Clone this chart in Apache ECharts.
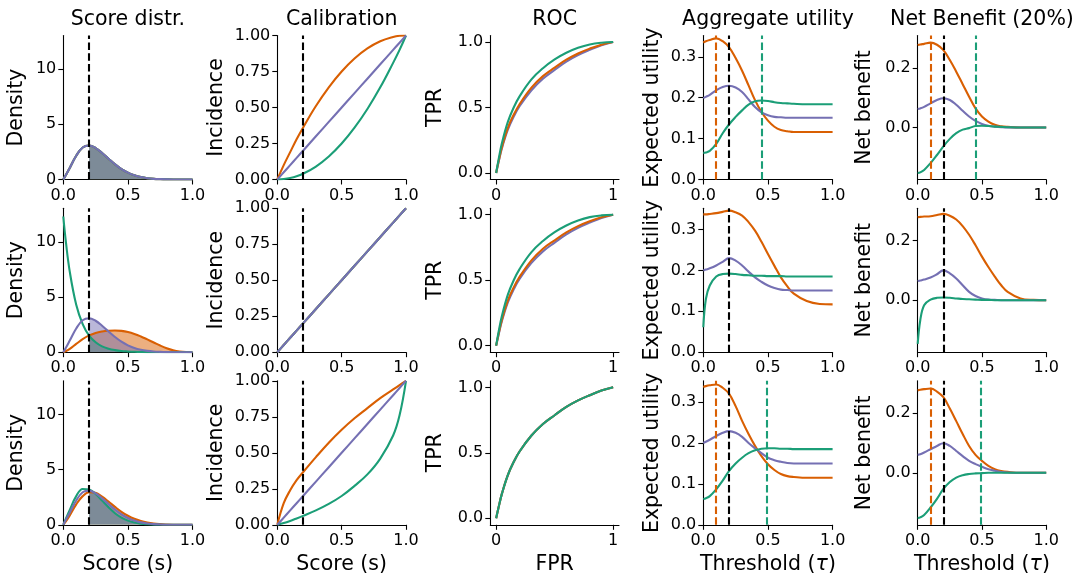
<!DOCTYPE html>
<html><head><meta charset="utf-8">
<script src="https://cdn.jsdelivr.net/npm/echarts@6/dist/echarts.min.js"></script>
<style>html,body{margin:0;padding:0;background:#fff}#c{width:1075px;height:573px}</style>
</head><body><div id="c"></div><script>
// ---------------- data ----------------
const colTitles = ['Score distr.', 'Calibration', 'ROC', 'Aggregate utility', 'Net Benefit (20%)'];
const yNames = ['Density', 'Incidence', 'TPR', 'Expected utility', 'Net benefit'];
const xNames = ['Score (s)', 'Score (s)', 'FPR', 'Threshold', 'Threshold'];

const ticksUnit = [0, 0.5, 1];
const ticksScoreY = [0, 5, 10];
const ticksCalY = [0, 0.25, 0.5, 0.75, 1];
const ticksRocX = [0, 1];
const ticksRocY = [0, 0.5, 1];
const ticksUtilY = [0, 0.1, 0.2, 0.3];
const ticksNbY = [0, 0.2];

// Score distributions
const scoreX = [0,0.02,0.05,0.1,0.15,0.2,0.25,0.3,0.35,0.4,0.45,0.5,0.55,0.6,0.65,0.7,0.75,0.8,0.85,0.9,0.95,1];
const scoreR1 = [0,0.4,1.05,2.15,2.9,3.08,2.85,2.4,1.88,1.38,0.95,0.62,0.38,0.22,0.12,0.06,0.03,0.01,0,0,0,0];
const scoreR2Green = [12.3,10.0,7.3,4.3,2.55,1.5,0.9,0.53,0.32,0.19,0.11,0.07,0.04,0.02,0.01,0.01,0,0,0,0,0,0];
const scoreR2Orange = [0,0.1,0.3,0.75,1.18,1.52,1.75,1.88,1.95,1.97,1.93,1.83,1.66,1.43,1.16,0.88,0.6,0.36,0.18,0.07,0.015,0];
const scoreR2Purple = [0,0.4,1.05,2.15,2.9,3.08,2.85,2.4,1.88,1.38,0.95,0.62,0.38,0.22,0.12,0.06,0.03,0.01,0,0,0,0];
const scoreR3Green = [0,0.55,1.35,2.6,3.25,3.2,2.8,2.2,1.6,1.05,0.65,0.38,0.2,0.1,0.05,0.02,0.01,0,0,0,0,0];
const scoreR3Orange = [0,0.3,0.85,1.85,2.6,2.95,2.9,2.55,2.1,1.62,1.18,0.82,0.54,0.34,0.2,0.11,0.06,0.03,0.01,0,0,0];
const scoreR3Purple = [0,0.45,1.1,2.2,2.95,3.1,2.85,2.4,1.88,1.38,0.95,0.62,0.38,0.22,0.12,0.06,0.03,0.01,0,0,0,0];

// Calibration
const calX = [0,0.05,0.1,0.15,0.2,0.3,0.4,0.5,0.6,0.7,0.8,0.9,0.95,1];
const calR1Orange = [0,0.1,0.19,0.28,0.36,0.51,0.64,0.75,0.84,0.91,0.96,0.99,0.998,1];
const calR1Green = [0,0.003,0.01,0.022,0.04,0.09,0.16,0.25,0.36,0.49,0.64,0.81,0.9,1];
const calDiag = [0,0.05,0.1,0.15,0.2,0.3,0.4,0.5,0.6,0.7,0.8,0.9,0.95,1];
const calR3Orange = [0,0.15,0.24,0.31,0.365,0.47,0.57,0.66,0.74,0.81,0.88,0.94,0.97,1];
const calR3Green = [0,0.012,0.027,0.044,0.062,0.1,0.145,0.2,0.27,0.35,0.46,0.62,0.76,1];

// ROC
const rocX = [0,0.02,0.05,0.1,0.15,0.2,0.3,0.4,0.5,0.6,0.7,0.8,0.9,1];
const rocR1Green = [0,0.1,0.23,0.39,0.5,0.585,0.713,0.8,0.867,0.918,0.956,0.982,0.995,1];
const rocR1Orange = [0,0.085,0.2,0.345,0.445,0.525,0.65,0.74,0.805,0.865,0.913,0.95,0.98,1];
const rocR1Purple = [0,0.08,0.19,0.33,0.43,0.51,0.63,0.72,0.787,0.85,0.9,0.94,0.975,1];
const rocR2Green = [0,0.1,0.23,0.39,0.5,0.585,0.713,0.8,0.867,0.918,0.956,0.982,0.995,1];
const rocR2Orange = [0,0.085,0.2,0.345,0.445,0.525,0.65,0.74,0.805,0.865,0.913,0.95,0.98,1];
const rocR2Purple = [0,0.08,0.19,0.33,0.43,0.51,0.63,0.72,0.787,0.85,0.9,0.94,0.975,1];
const rocR3 = [0,0.08,0.19,0.33,0.43,0.51,0.63,0.72,0.787,0.85,0.9,0.94,0.975,1];

// Aggregate utility
const utilX = [0,0.02,0.05,0.1,0.15,0.2,0.25,0.3,0.35,0.4,0.45,0.5,0.55,0.6,0.65,0.7,0.8,0.9,1];
const utilR1Orange = [0.335,0.338,0.341,0.345,0.338,0.323,0.297,0.266,0.23,0.194,0.165,0.144,0.129,0.121,0.118,0.116,0.116,0.116,0.116];
const utilR1Purple = [0.199,0.202,0.207,0.218,0.226,0.229,0.225,0.214,0.196,0.177,0.164,0.157,0.153,0.152,0.151,0.151,0.151,0.151,0.151];
const utilR1Green = [0.065,0.066,0.07,0.087,0.113,0.135,0.153,0.169,0.183,0.191,0.193,0.192,0.189,0.187,0.186,0.185,0.184,0.184,0.184];
const utilR2Orange = [0.337,0.337,0.338,0.34,0.343,0.346,0.342,0.334,0.318,0.297,0.27,0.24,0.211,0.183,0.161,0.143,0.125,0.118,0.117];
const utilR2Purple = [0.2,0.202,0.205,0.212,0.221,0.23,0.224,0.212,0.197,0.183,0.172,0.163,0.157,0.153,0.152,0.151,0.151,0.151,0.151];
const utilR2Green = [0.061,0.13,0.163,0.185,0.191,0.192,0.191,0.189,0.188,0.187,0.187,0.186,0.186,0.186,0.185,0.185,0.185,0.185,0.185];
const utilR3Orange = [0.337,0.339,0.341,0.343,0.335,0.32,0.29,0.254,0.222,0.193,0.168,0.148,0.134,0.124,0.119,0.117,0.115,0.115,0.115];
const utilR3Purple = [0.2,0.203,0.208,0.217,0.225,0.229,0.225,0.215,0.2,0.187,0.175,0.164,0.158,0.154,0.151,0.15,0.15,0.15,0.15];
const utilR3Green = [0.063,0.065,0.07,0.087,0.108,0.132,0.15,0.164,0.175,0.182,0.186,0.187,0.187,0.186,0.186,0.185,0.185,0.185,0.185];

// Net benefit
const nbR1Orange = [0.276,0.278,0.28,0.284,0.277,0.259,0.226,0.187,0.145,0.103,0.064,0.037,0.02,0.009,0.004,0.002,0,0,0];
const nbR1Purple = [0.062,0.064,0.069,0.081,0.092,0.098,0.092,0.076,0.056,0.037,0.022,0.012,0.006,0.003,0.001,0,0,0,0];
const nbR1Green = [-0.152,-0.15,-0.142,-0.119,-0.092,-0.063,-0.038,-0.019,-0.007,-0.002,0.005,0.006,0.005,0.003,0.002,0.001,0,0,0];
const nbR2Orange = [0.278,0.279,0.28,0.281,0.285,0.289,0.283,0.27,0.248,0.219,0.184,0.146,0.111,0.079,0.05,0.028,0.006,0.001,0];
const nbR2Purple = [0.064,0.066,0.069,0.076,0.087,0.1,0.09,0.073,0.05,0.028,0.014,0.006,0.002,0.001,0,0,0,0,0];
const nbR2Green = [-0.146,-0.067,-0.017,0.002,0.008,0.009,0.008,0.006,0.004,0.003,0.002,0.001,0.001,0,0,0,0,0,0];
const nbR3Orange = [0.276,0.278,0.28,0.282,0.272,0.253,0.215,0.173,0.13,0.09,0.06,0.04,0.023,0.012,0.006,0.003,0,0,0];
const nbR3Purple = [0.06,0.062,0.068,0.079,0.09,0.099,0.09,0.073,0.056,0.04,0.029,0.02,0.012,0.007,0.003,0.001,0,0,0];
const nbR3Green = [-0.151,-0.149,-0.141,-0.116,-0.087,-0.054,-0.031,-0.016,-0.008,-0.004,-0.002,-0.001,0,0,0,0,0,0,0];

// thresholds
const thrBlack = 0.2;
const thrOrangeR1 = 0.1, thrGreenR1 = 0.45;
const thrOrangeR3 = 0.1, thrGreenR3 = 0.49;

// ---------------- styling / layout ----------------
const C_O = '#d95f02', C_G = '#1b9e77', C_P = '#7570b3', C_K = '#000000';
const FONT = 'DejaVu Sans';
const TICK_FS = 16, LABEL_FS = 20.5;
const colLeft = [63.3, 277.3, 490.3, 703.3, 917.7];
const colWidth = [129.2, 128.7, 128.7, 129.3, 128.5];
const rowTop = [35.5, 208.2, 380.8];
const rowHeight = 144;
const yGap = [36, 50, 44, 40, 43];

const grids = [], xAxes = [], yAxes = [], series = [];

const fmt1 = v => v.toFixed(1);
const fmt2 = v => v.toFixed(2);
const fmt0 = v => v.toFixed(0);

const colAxis = [
  {xmin:0, xmax:1, xt:ticksUnit, xf:fmt1, ymin:0, ymax:13.05, yt:ticksScoreY, yf:fmt0},
  {xmin:0, xmax:1, xt:ticksUnit, xf:fmt1, ymin:0, ymax:1, yt:ticksCalY, yf:fmt2},
  {xmin:-0.05, xmax:1.05, xt:ticksRocX, xf:fmt0, ymin:-0.05, ymax:1.05, yt:ticksRocY, yf:fmt1},
  {xmin:0, xmax:1, xt:ticksUnit, xf:fmt1, ymin:0, ymax:0.352, yt:ticksUtilY, yf:fmt1},
  {xmin:0, xmax:1, xt:ticksUnit, xf:fmt1, ymin:-0.174, ymax:0.308, yt:ticksNbY, yf:fmt1}
];

function axisBase() {
  return {
    type: 'value',
    splitLine: {show: false},
    axisLine: {show: true, onZero: false, lineStyle: {color: C_K, width: 1.1}},
    axisTick: {show: true, inside: false, length: 5, lineStyle: {color: C_K, width: 1.1}},
  };
}

for (let r = 0; r < 3; r++) {
  for (let c = 0; c < 5; c++) {
    const gi = r * 5 + c;
    grids.push({left: colLeft[c], top: rowTop[r], width: colWidth[c], height: rowHeight,
      containLabel: false, outerBoundsMode: 'none'});
    const a = colAxis[c];
    const xa = Object.assign(axisBase(), {
      gridIndex: gi, min: a.xmin, max: a.xmax,
      axisLabel: {customValues: a.xt, formatter: a.xf, fontSize: TICK_FS, fontFamily: FONT, color: C_K, margin: 8},
    });
    xa.axisTick.customValues = a.xt;
    if (r === 2) {
      xa.name = c >= 3 ? '{n|Threshold (}{t|\u03c4}{n|)}' : xNames[c];
      xa.nameLocation = 'middle';
      xa.nameGap = 29;
      xa.nameTextStyle = {fontSize: LABEL_FS, fontFamily: FONT, color: C_K,
        rich: {n: {fontSize: LABEL_FS, fontFamily: FONT, color: C_K}, t: {fontSize: LABEL_FS, fontFamily: FONT, color: C_K, fontStyle: 'italic'}}};
    }
    xAxes.push(xa);
    const ya = Object.assign(axisBase(), {
      gridIndex: gi, min: a.ymin, max: a.ymax,
      name: yNames[c], nameLocation: 'middle', nameGap: yGap[c],
      nameTextStyle: {fontSize: LABEL_FS, fontFamily: FONT, color: C_K},
      axisLabel: {customValues: a.yt, formatter: a.yf, fontSize: TICK_FS, fontFamily: FONT, color: C_K, margin: 7},
    });
    ya.axisTick.customValues = a.yt;
    yAxes.push(ya);
  }
}

function zip(xs, ys) { return xs.map((x, i) => [x, ys[i]]); }
function line(gi, xs, ys, color, z) {
  series.push({type: 'line', xAxisIndex: gi, yAxisIndex: gi, data: zip(xs, ys), symbol: 'none', showSymbol: false,
    smooth: 0.4, lineStyle: {color: color, width: 2.1}, itemStyle: {color: color}, z: z || 3, silent: true, animation: false});
}
function fill(gi, xs, ys, color, from) {
  const d = zip(xs, ys).filter(p => p[0] >= from - 1e-9);
  series.push({type: 'line', xAxisIndex: gi, yAxisIndex: gi, data: d, symbol: 'none', showSymbol: false,
    smooth: 0.4, lineStyle: {width: 0, opacity: 0}, areaStyle: {color: color, opacity: 0.5}, z: 1, silent: true, animation: false});
}
function vline(gi, x, color) {
  series.push({type: 'line', xAxisIndex: gi, yAxisIndex: gi, data: [], symbol: 'none', silent: true, animation: false, z: 5,
    markLine: {silent: true, symbol: ['none', 'none'], label: {show: false}, animation: false,
      lineStyle: {color: color, type: [7.5, 3.3], width: 2.1}, emphasis: {disabled: true},
      data: [{xAxis: x}]}});
}

// Row 1
fill(0, scoreX, scoreR1, C_O, thrBlack); fill(0, scoreX, scoreR1, C_G, thrBlack); fill(0, scoreX, scoreR1, C_P, thrBlack);
line(0, scoreX, scoreR1, C_O); line(0, scoreX, scoreR1, C_G); line(0, scoreX, scoreR1, C_P);
vline(0, thrBlack, C_K);
line(1, calX, calR1Orange, C_O); line(1, calX, calR1Green, C_G); line(1, calX, calDiag, C_P);
vline(1, thrBlack, C_K);
line(2, rocX, rocR1Purple, C_P); line(2, rocX, rocR1Orange, C_O); line(2, rocX, rocR1Green, C_G);
line(3, utilX, utilR1Orange, C_O); line(3, utilX, utilR1Purple, C_P); line(3, utilX, utilR1Green, C_G);
vline(3, thrOrangeR1, C_O); vline(3, thrBlack, C_K); vline(3, thrGreenR1, C_G);
line(4, utilX, nbR1Orange, C_O); line(4, utilX, nbR1Purple, C_P); line(4, utilX, nbR1Green, C_G);
vline(4, thrOrangeR1, C_O); vline(4, thrBlack, C_K); vline(4, thrGreenR1, C_G);

// Row 2
fill(5, scoreX, scoreR2Orange, C_O, thrBlack); fill(5, scoreX, scoreR2Green, C_G, thrBlack); fill(5, scoreX, scoreR2Purple, C_P, thrBlack);
line(5, scoreX, scoreR2Orange, C_O); line(5, scoreX, scoreR2Green, C_G); line(5, scoreX, scoreR2Purple, C_P);
vline(5, thrBlack, C_K);
line(6, calX, calDiag, C_O); line(6, calX, calDiag, C_G); line(6, calX, calDiag, C_P);
vline(6, thrBlack, C_K);
line(7, rocX, rocR2Purple, C_P); line(7, rocX, rocR2Orange, C_O); line(7, rocX, rocR2Green, C_G);
line(8, utilX, utilR2Orange, C_O); line(8, utilX, utilR2Purple, C_P); line(8, utilX, utilR2Green, C_G);
vline(8, thrBlack, C_K);
line(9, utilX, nbR2Orange, C_O); line(9, utilX, nbR2Purple, C_P); line(9, utilX, nbR2Green, C_G);
vline(9, thrBlack, C_K);

// Row 3
fill(10, scoreX, scoreR3Orange, C_O, thrBlack); fill(10, scoreX, scoreR3Green, C_G, thrBlack); fill(10, scoreX, scoreR3Purple, C_P, thrBlack);
line(10, scoreX, scoreR3Orange, C_O); line(10, scoreX, scoreR3Green, C_G); line(10, scoreX, scoreR3Purple, C_P);
vline(10, thrBlack, C_K);
line(11, calX, calR3Orange, C_O); line(11, calX, calR3Green, C_G); line(11, calX, calDiag, C_P);
vline(11, thrBlack, C_K);
line(12, rocX, rocR3, C_P); line(12, rocX, rocR3, C_O); line(12, rocX, rocR3, C_G);
line(13, utilX, utilR3Orange, C_O); line(13, utilX, utilR3Purple, C_P); line(13, utilX, utilR3Green, C_G);
vline(13, thrOrangeR3, C_O); vline(13, thrBlack, C_K); vline(13, thrGreenR3, C_G);
line(14, utilX, nbR3Orange, C_O); line(14, utilX, nbR3Purple, C_P); line(14, utilX, nbR3Green, C_G);
vline(14, thrOrangeR3, C_O); vline(14, thrBlack, C_K); vline(14, thrGreenR3, C_G);

const graphics = colTitles.map((t, c) => ({
  type: 'text', x: colLeft[c] + colWidth[c] / 2, y: 9, silent: true,
  style: {text: t, fontSize: LABEL_FS, fontFamily: FONT, fill: C_K, align: 'center', verticalAlign: 'top'}
}));

const chart = echarts.init(document.getElementById('c'), null, {renderer: 'canvas'});
chart.setOption({
  animation: false,
  backgroundColor: '#ffffff',
  grid: grids, xAxis: xAxes, yAxis: yAxes, series: series, graphic: graphics
});
</script></body></html>
